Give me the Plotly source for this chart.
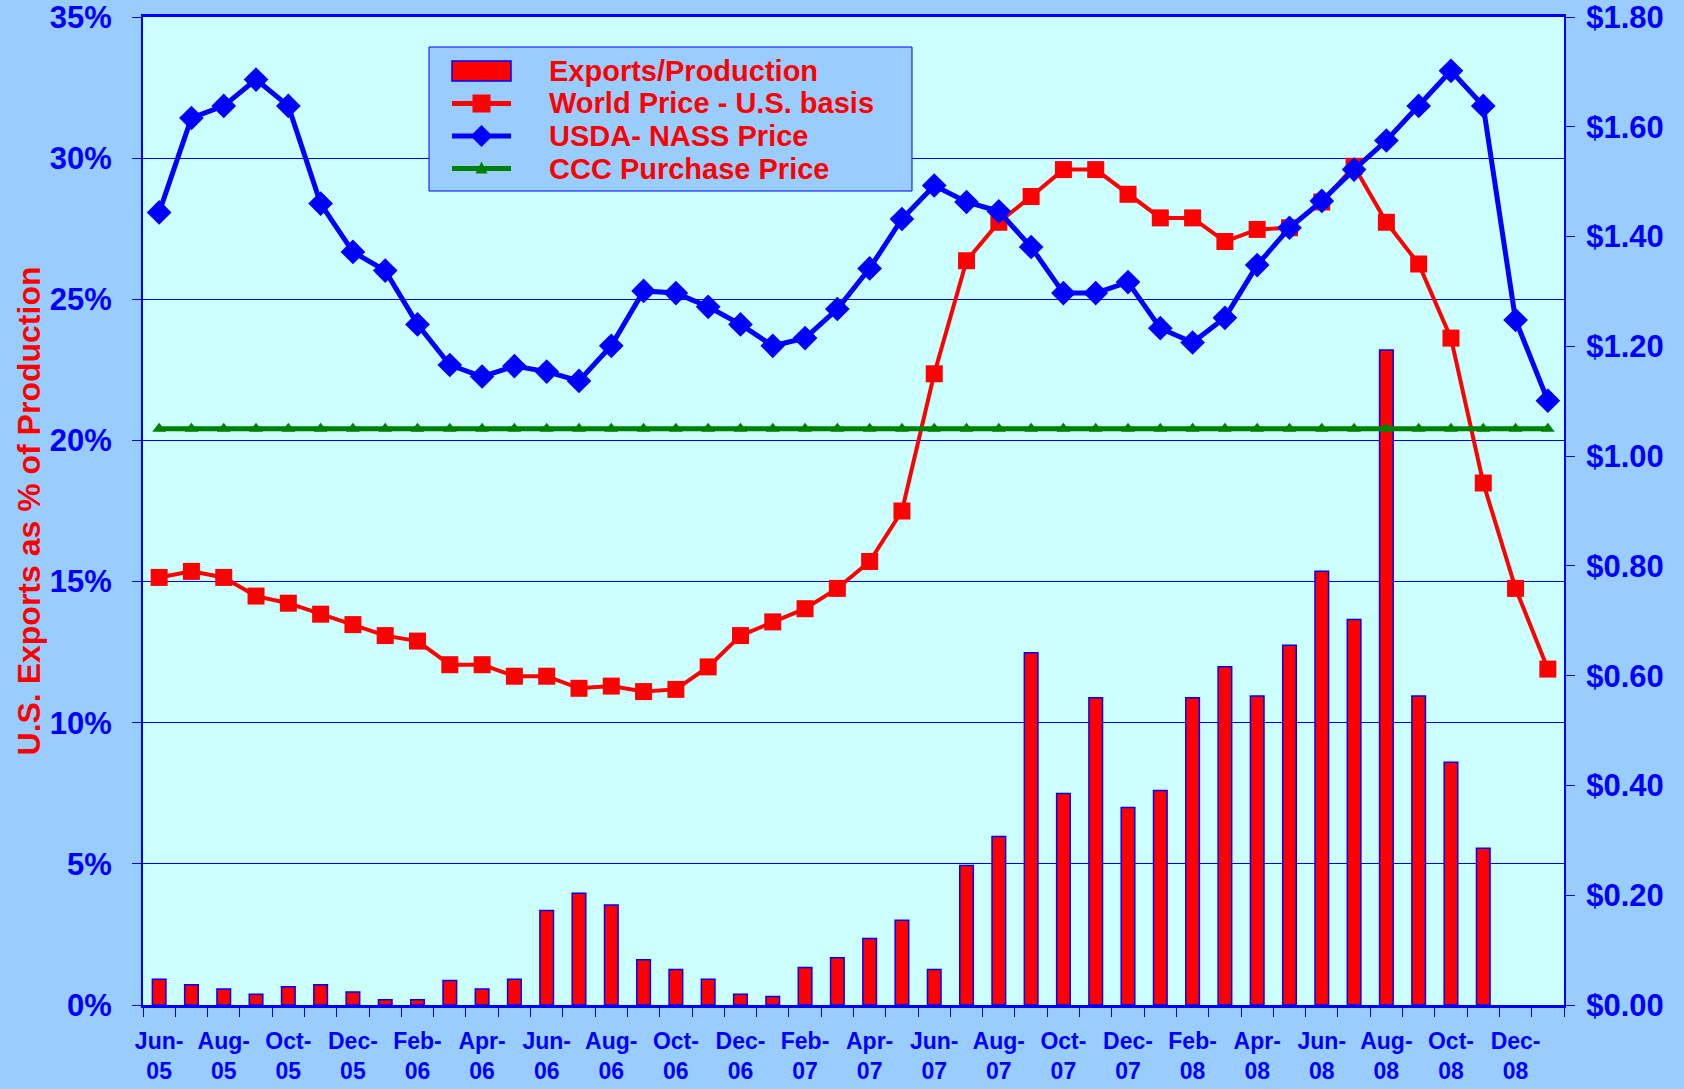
import plotly.graph_objects as go

months = [
    "Jun-05", "Jul-05", "Aug-05", "Sep-05", "Oct-05", "Nov-05", "Dec-05",
    "Jan-06", "Feb-06", "Mar-06", "Apr-06", "May-06", "Jun-06", "Jul-06",
    "Aug-06", "Sep-06", "Oct-06", "Nov-06", "Dec-06", "Jan-07", "Feb-07",
    "Mar-07", "Apr-07", "May-07", "Jun-07", "Jul-07", "Aug-07", "Sep-07",
    "Oct-07", "Nov-07", "Dec-07", "Jan-08", "Feb-08", "Mar-08", "Apr-08",
    "May-08", "Jun-08", "Jul-08", "Aug-08", "Sep-08", "Oct-08", "Nov-08",
    "Dec-08", "Jan-09",
]

# exports as % of production (left axis)
exports_pct = [
    0.91, 0.72, 0.57, 0.38, 0.65, 0.72, 0.46, 0.19, 0.19, 0.87, 0.57, 0.91,
    3.35, 3.96, 3.54, 1.60, 1.26, 0.91, 0.38, 0.30, 1.33, 1.67, 2.36, 3.00,
    1.26, 4.94, 5.97, 12.48, 7.49, 10.88, 7.00, 7.60, 10.88, 11.98, 10.95,
    12.74, 15.37, 13.66, 23.20, 10.95, 8.60, 5.55, None, None,
]

# prices, $ (right axis)
world_price = [
    0.779, 0.790, 0.779, 0.745, 0.732, 0.712, 0.693, 0.673, 0.663, 0.620,
    0.620, 0.599, 0.599, 0.577, 0.581, 0.571, 0.575, 0.616, 0.673, 0.698,
    0.722, 0.759, 0.808, 0.900, 1.150, 1.356, 1.426, 1.473, 1.522, 1.522,
    1.477, 1.434, 1.434, 1.391, 1.413, 1.416, 1.463, 1.528, 1.426, 1.350,
    1.215, 0.951, 0.759, 0.612,
]

nass_price = [
    1.444, 1.616, 1.638, 1.686, 1.638, 1.460, 1.372, 1.338, 1.240, 1.166,
    1.145, 1.164, 1.154, 1.137, 1.201, 1.301, 1.297, 1.272, 1.240, 1.201,
    1.215, 1.268, 1.342, 1.432, 1.493, 1.463, 1.446, 1.381, 1.297, 1.297,
    1.317, 1.233, 1.207, 1.252, 1.348, 1.416, 1.465, 1.522, 1.575, 1.638,
    1.702, 1.638, 1.248, 1.101,
]

ccc_price = [1.05] * len(months)

series_names = ["Exports/Production", "World Price - U.S. basis",
                "USDA- NASS Price", "CCC Purchase Price"]

tick_text = [m.replace("-", "-<br>") if i % 2 == 0 else "" for i, m in enumerate(months)]

BLUE = "#0000FF"
RED = "#FF0000"
GREEN = "#008000"
FONT = "Liberation Sans, Arial, sans-serif"

W, H = 1684, 1089
ML, MR, MT, MB = 143, 120, 17, 84
PW, PH = W - ML - MR, H - MT - MB


def px(x):  # page pixel -> paper x
    return (x - ML) / PW


def py(y):  # page pixel -> paper y
    return (H - MB - y) / PH


fig = go.Figure()

fig.add_trace(go.Bar(
    x=months, y=exports_pct, name=series_names[0],
    marker=dict(color=RED, line=dict(color=BLUE, width=1.5)),
    width=0.42,
))
fig.add_trace(go.Scatter(
    x=months, y=world_price, name=series_names[1], yaxis="y2",
    mode="lines+markers",
    line=dict(color=RED, width=4),
    marker=dict(symbol="square", size=17, color=RED),
))
fig.add_trace(go.Scatter(
    x=months, y=nass_price, name=series_names[2], yaxis="y2",
    mode="lines+markers",
    line=dict(color=BLUE, width=5),
    marker=dict(symbol="diamond", size=19, color=BLUE),
))
fig.add_trace(go.Scatter(
    x=months, y=ccc_price, name=series_names[3], yaxis="y2",
    mode="lines+markers",
    line=dict(color=GREEN, width=5),
    marker=dict(symbol="triangle-up", size=12, color=GREEN),
))

# hand-drawn legend box (Excel style, tight rows)
rows = [71, 103.5, 136, 168.5]
shapes = [dict(type="rect", xref="paper", yref="paper",
               x0=px(429), x1=px(912), y0=py(191), y1=py(47),
               fillcolor="#99CCFF", line=dict(color=BLUE, width=1), layer="above")]
annotations = []
sx0, sx1, sxc = 452, 511, 481.5
# bar swatch
shapes.append(dict(type="rect", xref="paper", yref="paper",
                   x0=px(sx0), x1=px(sx1), y0=py(rows[0] + 10), y1=py(rows[0] - 10),
                   fillcolor=RED, line=dict(color=BLUE, width=1.5), layer="above"))
# line swatches
for r, col in [(rows[1], RED), (rows[2], BLUE), (rows[3], GREEN)]:
    shapes.append(dict(type="line", xref="paper", yref="paper",
                       x0=px(sx0), x1=px(sx1), y0=py(r), y1=py(r),
                       line=dict(color=col, width=5), layer="above"))
# marker swatches
r = rows[1]
shapes.append(dict(type="rect", xref="paper", yref="paper",
                   x0=px(sxc - 9), x1=px(sxc + 9), y0=py(r + 9), y1=py(r - 9),
                   fillcolor=RED, line=dict(width=0), layer="above"))
r = rows[2]
shapes.append(dict(type="path", xref="paper", yref="paper",
                   path=f"M {px(sxc - 11)} {py(r)} L {px(sxc)} {py(r - 11)} "
                        f"L {px(sxc + 11)} {py(r)} L {px(sxc)} {py(r + 11)} Z",
                   fillcolor=BLUE, line=dict(width=0), layer="above"))
r = rows[3]
shapes.append(dict(type="path", xref="paper", yref="paper",
                   path=f"M {px(sxc - 6)} {py(r + 5)} L {px(sxc)} {py(r - 7)} "
                        f"L {px(sxc + 6)} {py(r + 5)} Z",
                   fillcolor=GREEN, line=dict(width=0), layer="above"))
for name, r in zip(series_names, rows):
    annotations.append(dict(xref="paper", yref="paper", x=px(547), y=py(r),
                            xanchor="left", yanchor="middle", showarrow=False,
                            text=name, font=dict(size=29, color=RED, family=FONT, weight="bold")))

fig.update_layout(
    width=W, height=H,
    paper_bgcolor="#99CCFF",
    plot_bgcolor="#CCFFFF",
    font=dict(family=FONT, color=BLUE, weight="bold"),
    margin=dict(l=ML, r=MR, t=MT, b=MB),
    showlegend=False,
    shapes=shapes,
    annotations=annotations,
    xaxis=dict(
        type="category", range=[-0.5, len(months) - 0.5],
        tickmode="array", tickvals=months, ticktext=tick_text,
        tickson="boundaries",
        ticks="outside", ticklen=9, tickcolor=BLUE, tickwidth=1,
        tickfont=dict(size=23, color=BLUE),
        ticklabelstandoff=14,
        showline=True, linecolor=BLUE, linewidth=2.5, mirror=True,
        showgrid=False, automargin=False,
        tickangle=0,
    ),
    yaxis=dict(
        range=[0, 35], dtick=5, ticksuffix="%",
        ticks="outside", ticklen=9, tickcolor=BLUE,
        tickfont=dict(size=31, color=BLUE),
        ticklabelstandoff=14, ticklabeloverflow="allow",
        showline=True, linecolor=BLUE, linewidth=2,
        showgrid=True, gridcolor=BLUE, gridwidth=1,
        zeroline=False, automargin=False,
        title=dict(text="U.S. Exports as % of Production",
                   font=dict(size=32, color=RED), standoff=0),
    ),
    yaxis2=dict(
        range=[0, 1.8], dtick=0.2, tickprefix="$", tickformat=".2f",
        overlaying="y", side="right",
        ticks="outside", ticklen=9, tickcolor=BLUE,
        tickfont=dict(size=31, color=BLUE),
        ticklabelstandoff=5, ticklabeloverflow="allow",
        showline=True, linecolor=BLUE, linewidth=2,
        showgrid=False, zeroline=False, automargin=False,
    ),
)

fig.write_html("out.html", config={"displayModeBar": False},
               post_script="document.body.style.margin='0';document.body.style.overflow='hidden';")
